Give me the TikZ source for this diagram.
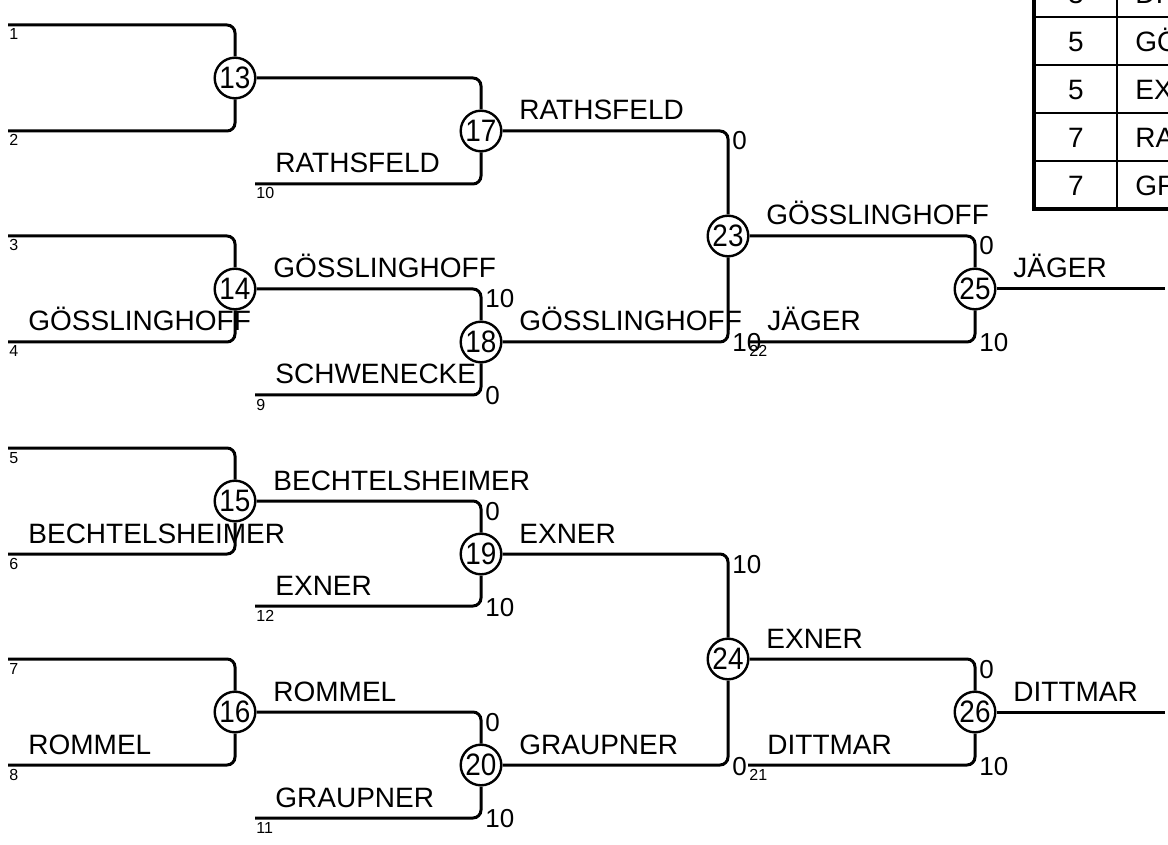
\documentclass[tikz,border=0pt]{standalone}
\usepackage{fontspec}
\setmainfont{Liberation Sans}
\newfontfamily\matchfont[FakeStretch=0.9]{Liberation Sans}
\begin{document}
\begin{tikzpicture}[x=0.5pt, y=-0.5pt,
    link/.style={line width=1.5pt, rounded corners=4pt},
    tablerule/.style={line width=0.9pt},
    tableframe/.style={line width=2pt},
    player/.style={anchor=base west, inner sep=0pt, font=\fontsize{14}{14}\selectfont},
    score/.style={anchor=base west, inner sep=0pt, font=\fontsize{13}{13}\selectfont},
    seedno/.style={anchor=base west, inner sep=0pt, font=\fontsize{8}{8}\selectfont}]

        \useasboundingbox (0,0) rectangle (1168,845);
        \clip (0,0) rectangle (1168,845);

        % where the entries start and the winners leave
        \coordinate (s1)  at (8,25);
        \coordinate (s2)  at (8,131);
        \coordinate (s3)  at (8,236);
        \coordinate (s4)  at (8,342);
        \coordinate (s5)  at (8,448);
        \coordinate (s6)  at (8,554);
        \coordinate (s7)  at (8,659);
        \coordinate (s8)  at (8,765);
        \coordinate (s10) at (255,184);
        \coordinate (s9)  at (255,395);
        \coordinate (s12) at (255,606);
        \coordinate (s11) at (255,818);
        \coordinate (s22) at (748,342);
        \coordinate (s21) at (748,765);
        \coordinate (o25) at (1165,289);
        \coordinate (o26) at (1165,712);

        \begin{scope}[every node/.style={circle, draw, line width=1.2pt, minimum size=20.3pt,
                      inner sep=0pt, font=\matchfont\fontsize{15.5}{15.5}\selectfont}]
          \node (13) at (235,78)  {13};
          \node (14) at (235,289) {14};
          \node (15) at (235,501) {15};
          \node (16) at (235,712) {16};
          \node (17) at (481,131) {17};
          \node (18) at (481,342) {18};
          \node (19) at (481,554) {19};
          \node (20) at (481,765) {20};
          \node (23) at (728,236) {23};
          \node (24) at (728,659) {24};
          \node (25) at (975,289) {25};
          \node (26) at (975,712) {26};
        \end{scope}

        \foreach \a/\b in {s1/13, s2/13, s3/14, s4/14, s5/15, s6/15, s7/16, s8/16,
                           13/17, s10/17, 14/18, s9/18, 15/19, s12/19, 16/20, s11/20,
                           17/23, 18/23, 19/24, 20/24, 23/25, s22/25, 24/26, s21/26}
          \draw[link] (\a) -| (\b);
        \draw[link] (25) -- (o25);
        \draw[link] (26) -- (o26);

        % names
        \node[player] (n4)  at (28,331)  {GÖSSLINGHOFF};
        \node[player] (n6)  at (28,543)  {BECHTELSHEIMER};
        \node[player] (n8)  at (28,754)  {ROMMEL};
        \node[player] (n10) at (275,173) {RATHSFELD};
        \node[player] (n9)  at (275,384) {SCHWENECKE};
        \node[player] (n12) at (275,595) {EXNER};
        \node[player] (n11) at (275,807) {GRAUPNER};
        \node[player] (n22) at (767,331) {JÄGER};
        \node[player] (n21) at (767,754) {DITTMAR};
        \node[player] (w14) at (273,278) {GÖSSLINGHOFF};
        \node[player] (w15) at (273,490) {BECHTELSHEIMER};
        \node[player] (w16) at (273,701) {ROMMEL};
        \node[player] (w17) at (519,120) {RATHSFELD};
        \node[player] (w18) at (519,331) {GÖSSLINGHOFF};
        \node[player] (w19) at (519,543) {EXNER};
        \node[player] (w20) at (519,754) {GRAUPNER};
        \node[player] (w23) at (766,225) {GÖSSLINGHOFF};
        \node[player] (w24) at (766,648) {EXNER};
        \node[player] (w25) at (1013,278) {JÄGER};
        \node[player] (w26) at (1013,701) {DITTMAR};

        % scores
        \node[score] (a18) at (485,308) {10};
        \node[score] (b18) at (485,404) {0};
        \node[score] (a19) at (485,520) {0};
        \node[score] (b19) at (485,616) {10};
        \node[score] (a20) at (485,731) {0};
        \node[score] (b20) at (485,827) {10};
        \node[score] (a23) at (732,150) {0};
        \node[score] (b23) at (732,352) {10};
        \node[score] (a24) at (732,573) {10};
        \node[score] (b24) at (732,775) {0};
        \node[score] (a25) at (979,255) {0};
        \node[score] (b25) at (979,352) {10};
        \node[score] (a26) at (979,678) {0};
        \node[score] (b26) at (979,775) {10};

        % seed numbers
        \foreach \n/\x/\y in {1/9/40, 2/9/146, 3/9/251, 4/9/357, 5/9/463, 6/9/569, 7/9/674, 8/9/780,
                              10/256/199, 9/256/410, 12/256/621, 11/256/833, 22/749/357, 21/749/780}
          \node[seedno] (q\n) at (\x,\y) {\n};

        % ranking table
        \foreach \y in {17,65,113,161}
          \draw[tablerule] (1034,\y) -- (1200,\y);
        \draw[tablerule] (1117,-40) -- (1117,209);
        \draw[tableframe] (1034,-40) -- (1034,209) -- (1200,209);
        \begin{scope}[every node/.style={anchor=base, inner sep=0pt, font=\fontsize{14}{14}\selectfont}]
          \node (k1) at (1076,4)   {3};
          \node (k2) at (1076,52)  {5};
          \node (k3) at (1076,100) {5};
          \node (k4) at (1076,148) {7};
          \node (k5) at (1076,196) {7};
        \end{scope}
        \node[player] (t1) at (1135,4)   {DITTMAR};
        \node[player] (t2) at (1135,52)  {GÖSSLINGHOFF};
        \node[player] (t3) at (1135,100) {EXNER};
        \node[player] (t4) at (1135,148) {RATHSFELD};
        \node[player] (t5) at (1135,196) {GRAUPNER};

      \end{tikzpicture}
\end{document}
